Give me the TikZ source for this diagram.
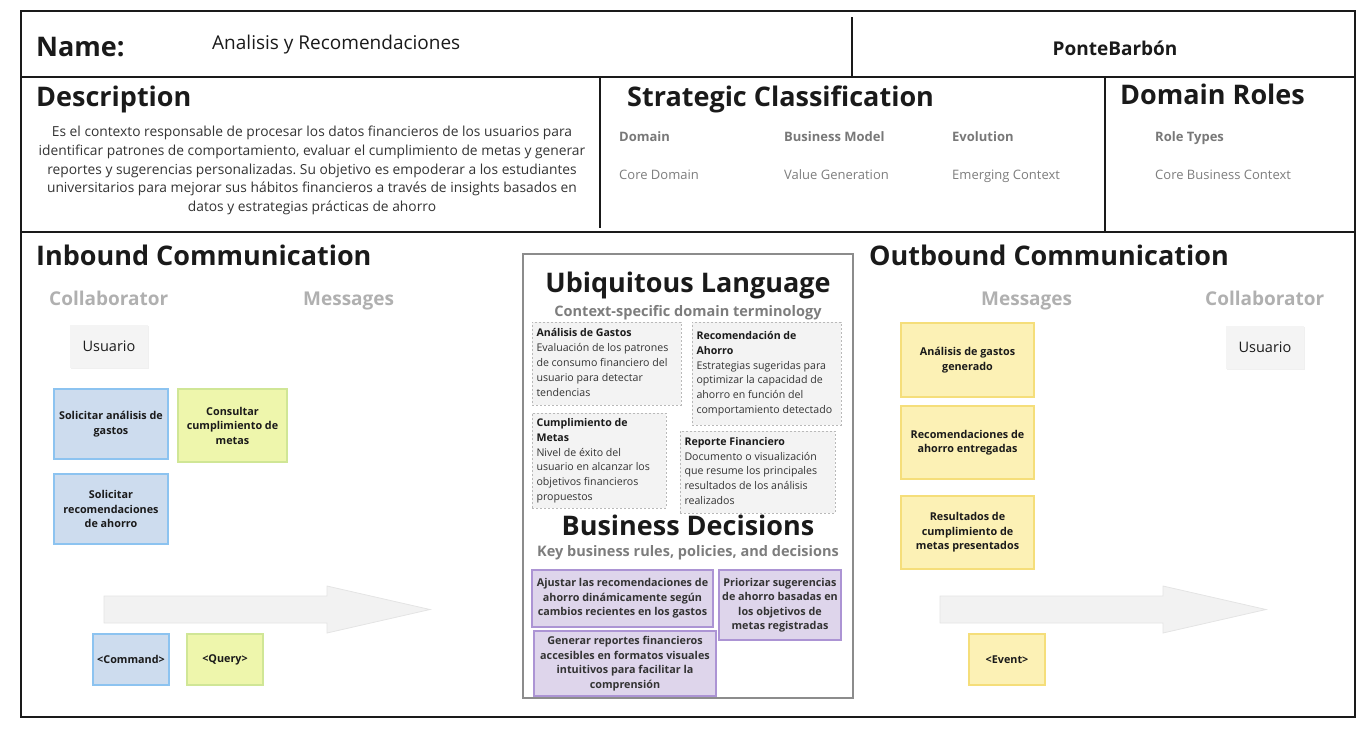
\documentclass[tikz,border=0pt]{standalone}
\usepackage{fontspec}
\setmainfont{Open Sans}
\usetikzlibrary{shadows}
\frenchspacing

\definecolor{ink}{RGB}{26,26,26}
\definecolor{bodytext}{RGB}{51,51,51}
\definecolor{labelgrey}{RGB}{120,120,120}
\definecolor{valuegrey}{RGB}{125,125,125}
\definecolor{softgrey}{RGB}{176,176,176}
\definecolor{cmdfill}{RGB}{205,220,238}
\definecolor{cmdline}{RGB}{140,195,240}
\definecolor{qryfill}{RGB}{238,246,172}
\definecolor{qryline}{RGB}{208,230,150}
\definecolor{evtfill}{RGB}{252,241,181}
\definecolor{evtline}{RGB}{245,222,122}
\definecolor{decfill}{RGB}{222,213,235}
\definecolor{decline}{RGB}{172,148,212}
\definecolor{termfill}{RGB}{243,243,243}
\definecolor{termline}{RGB}{185,185,185}
\definecolor{arrowfill}{RGB}{242,242,242}
\definecolor{arrowline}{RGB}{228,228,228}
\definecolor{userfill}{RGB}{244,244,244}

\newcommand\setfs[2]{\fontsize{#1}{#2}\selectfont}
% multi-line blocks whose baseline is the first line
\newcommand\linesL[1]{\begin{tabular}[t]{@{}l@{}}#1\end{tabular}}
\newcommand\linesC[1]{\begin{tabular}[t]{@{}c@{}}#1\end{tabular}}
% left-aligned block of explicit lines inside a box of given inner width
\newcommand\termtext[2]{\makebox[#1][l]{\begin{tabular}{@{}l@{}}#2\end{tabular}}}

\tikzset{
  frameouter/.style={line width=2.8pt, draw=ink},
  frameline/.style={line width=1.5pt, draw=ink},
  bigtitle/.style={inner sep=0pt, anchor=base west, text=ink, font=\setfs{27}{31}\bfseries},
  subhead/.style={inner sep=0pt, anchor=base west, text=softgrey, font=\setfs{19}{23}\bfseries},
  classlabel/.style={inner sep=0pt, anchor=base west, text=labelgrey, font=\setfs{13}{16}\bfseries},
  classvalue/.style={inner sep=0pt, anchor=base west, text=valuegrey, font=\setfs{13}{16}},
  note/.style={line width=1.1pt, align=center, inner sep=2pt, text=ink,
    font=\setfs{10.8}{14.5}\bfseries},
  cmdnote/.style={note, draw=cmdline, fill=cmdfill},
  qrynote/.style={note, draw=qryline, fill=qryfill},
  evtnote/.style={note, draw=evtline, fill=evtfill},
  decnote/.style={note, draw=decline, fill=decfill, text=bodytext},
  usernote/.style={fill=userfill, minimum width=78pt, minimum height=43pt, inner sep=0pt,
    text=ink, font=\setfs{14.5}{17},
    drop shadow={opacity=0.12, shadow xshift=0.6pt, shadow yshift=-1.2pt}},
  termbox/.style={draw=termline, fill=termfill, line width=0.8pt, dash pattern=on 2pt off 2pt,
    inner xsep=4.5pt, inner ysep=0pt, text=bodytext, font=\setfs{10.6}{14.8}},
  bigarrow/.style={fill=arrowfill, draw=arrowline, line width=0.8pt},
}

\begin{document}
\begin{tikzpicture}[x=1pt, y=-1pt]
\useasboundingbox (0,0) rectangle (1371,729);

% ---------- canvas frame ----------
\draw[frameouter] (21,11) rectangle (1355,717);
\draw[frameline] (21,77) -- (1355,77);
\draw[frameline] (21,232) -- (1355,232);
\draw[frameline] (852,17) -- (852,77);
\draw[frameline] (600,77) -- (600,228);
\draw[frameline] (1105,77) -- (1105,232);

% ---------- name row ----------
\node[bigtitle] (nameLbl) at (36,56) {Name:};
\node[inner sep=0pt, anchor=base west, text=ink, font=\setfs{19}{23}] (nameVal) at (212,49) {Analisis y Recomendaciones};
\node[inner sep=0pt, anchor=base, text=ink, font=\setfs{19}{23}\bfseries] (owner) at (1115,55) {PonteBarbón};

% ---------- description ----------
\node[bigtitle] (descTitle) at (36,106.5) {Description};
\node[inner sep=0pt, anchor=base, text=bodytext, font=\setfs{13.8}{18.8}] (descText) at (312,136.5)
  {\linesC{Es el contexto responsable de procesar los datos financieros de los usuarios para\\
  identificar patrones de comportamiento, evaluar el cumplimiento de metas y generar\\
  reportes y sugerencias personalizadas. Su objetivo es empoderar a los estudiantes\\
  universitarios para mejorar sus hábitos financieros a través de insights basados en\\
  datos y estrategias prácticas de ahorro}};

% ---------- strategic classification ----------
\node[bigtitle] (stratTitle) at (627,106.5) {Strategic Classification};
\node[classlabel] (domLbl) at (619,141) {Domain};
\node[classlabel] (bmLbl) at (784,141) {Business Model};
\node[classlabel] (evoLbl) at (952,141) {Evolution};
\node[classvalue] (domVal) at (619,179) {Core Domain};
\node[classvalue] (bmVal) at (784,179) {Value Generation};
\node[classvalue] (evoVal) at (952,179) {Emerging Context};

% ---------- domain roles ----------
\node[bigtitle] (rolesTitle) at (1120,104.5) {Domain Roles};
\node[classlabel] (roleLbl) at (1155,141) {Role Types};
\node[classvalue] (roleVal) at (1155,179) {Core Business Context};

% ---------- inbound communication ----------
\node[bigtitle] (inTitle) at (36,265.5) {Inbound Communication};
\node[subhead] (inCollab) at (49,305.5) {Collaborator};
\node[subhead] (inMsg) at (303,305.5) {Messages};

\node[usernote] (inUser) at (109,346.5) {Usuario};
\node[cmdnote, minimum width=114pt, minimum height=70pt] (cmdGastos) at (111,424) {Solicitar análisis de\\gastos};
\node[qrynote, minimum width=109pt, minimum height=73pt] (qryMetas) at (232.5,425.5) {Consultar\\cumplimiento de\\metas};
\node[cmdnote, minimum width=114pt, minimum height=70pt] (cmdAhorro) at (111,509) {Solicitar\\recomendaciones\\de ahorro};

\draw[bigarrow] (104,596) -- (327,596) -- (327,586) -- (430,609.5) -- (327,633) -- (327,623) -- (104,623) -- cycle;

\node[cmdnote, minimum width=76pt, minimum height=51pt] (cmdKey) at (131,659.5) {<Command>};
\node[qrynote, minimum width=76pt, minimum height=51pt] (qryKey) at (225,659.5) {<Query>};

% ---------- ubiquitous language & business decisions ----------
\draw[line width=1.4pt, draw=black!45] (523,254) rectangle (853,698);
\node[inner sep=0pt, anchor=base, text=ink, font=\setfs{27}{31}\bfseries] (ulTitle) at (688,292) {Ubiquitous Language};
\node[inner sep=0pt, anchor=base, text=valuegrey, font=\setfs{14.5}{18}\bfseries] (ulSub) at (688,316.5) {Context-specific domain terminology};

\node[termbox, minimum height=83pt] (termGastos) at (606.5,363.5)
  {\termtext{140pt}{\textbf{\color{ink}Análisis de Gastos}\\Evaluación de los patrones\\de consumo financiero del\\usuario para detectar\\tendencias}};
\node[termbox, minimum height=103pt] (termAhorro) at (766.5,373.5)
  {\termtext{140pt}{\textbf{\color{ink}Recomendación de}\\\textbf{\color{ink}Ahorro}\\Estrategias sugeridas para\\optimizar la capacidad de\\ahorro en función del\\comportamiento detectado}};
\node[termbox, minimum height=95pt] (termMetas) at (599,460.5)
  {\termtext{125pt}{\textbf{\color{ink}Cumplimiento de}\\\textbf{\color{ink}Metas}\\Nivel de éxito del\\usuario en alcanzar los\\objetivos financieros\\propuestos}};
\node[termbox, minimum height=82pt] (termReporte) at (757.5,472)
  {\termtext{146pt}{\textbf{\color{ink}Reporte Financiero}\\Documento o visualización\\que resume los principales\\resultados de los análisis\\realizados}};

\node[inner sep=0pt, anchor=base, text=ink, font=\setfs{27}{31}\bfseries] (bdTitle) at (688,535) {Business Decisions};
\node[inner sep=0pt, anchor=base, text=valuegrey, font=\setfs{14.5}{18}\bfseries] (bdSub) at (688,556.5) {Key business rules, policies, and decisions};

\node[decnote, minimum width=181pt, minimum height=57pt] (decAjustar) at (622.5,598.5)
  {Ajustar las recomendaciones de\\ahorro dinámicamente según\\cambios recientes en los gastos};
\node[decnote, minimum width=122pt, minimum height=70pt] (decPriorizar) at (780,605)
  {Priorizar sugerencias\\de ahorro basadas en\\los objetivos de\\metas registradas};
\node[decnote, minimum width=182pt, minimum height=65pt] (decGenerar) at (625,663.5)
  {Generar reportes financieros\\accesibles en formatos visuales\\intuitivos para facilitar la\\comprensión};

% ---------- outbound communication ----------
\node[bigtitle] (outTitle) at (869,265.5) {Outbound Communication};
\node[subhead] (outMsg) at (981,305.5) {Messages};
\node[subhead] (outCollab) at (1205,305.5) {Collaborator};

\node[evtnote, minimum width=133pt, minimum height=74pt] (evtGastos) at (967.5,360) {Análisis de gastos\\generado};
\node[evtnote, minimum width=133pt, minimum height=73pt] (evtAhorro) at (967.5,442.5) {Recomendaciones de\\ahorro entregadas};
\node[evtnote, minimum width=133pt, minimum height=73pt] (evtMetas) at (967.5,532.5) {Resultados de\\cumplimiento de\\metas presentados};
\node[usernote] (outUser) at (1265,347.5) {Usuario};

\draw[bigarrow] (940,596) -- (1163,596) -- (1163,586) -- (1266,609.5) -- (1163,633) -- (1163,623) -- (940,623) -- cycle;

\node[evtnote, minimum width=76pt, minimum height=51pt] (evtKey) at (1007,659.5) {<Event>};

\end{tikzpicture}
\end{document}
